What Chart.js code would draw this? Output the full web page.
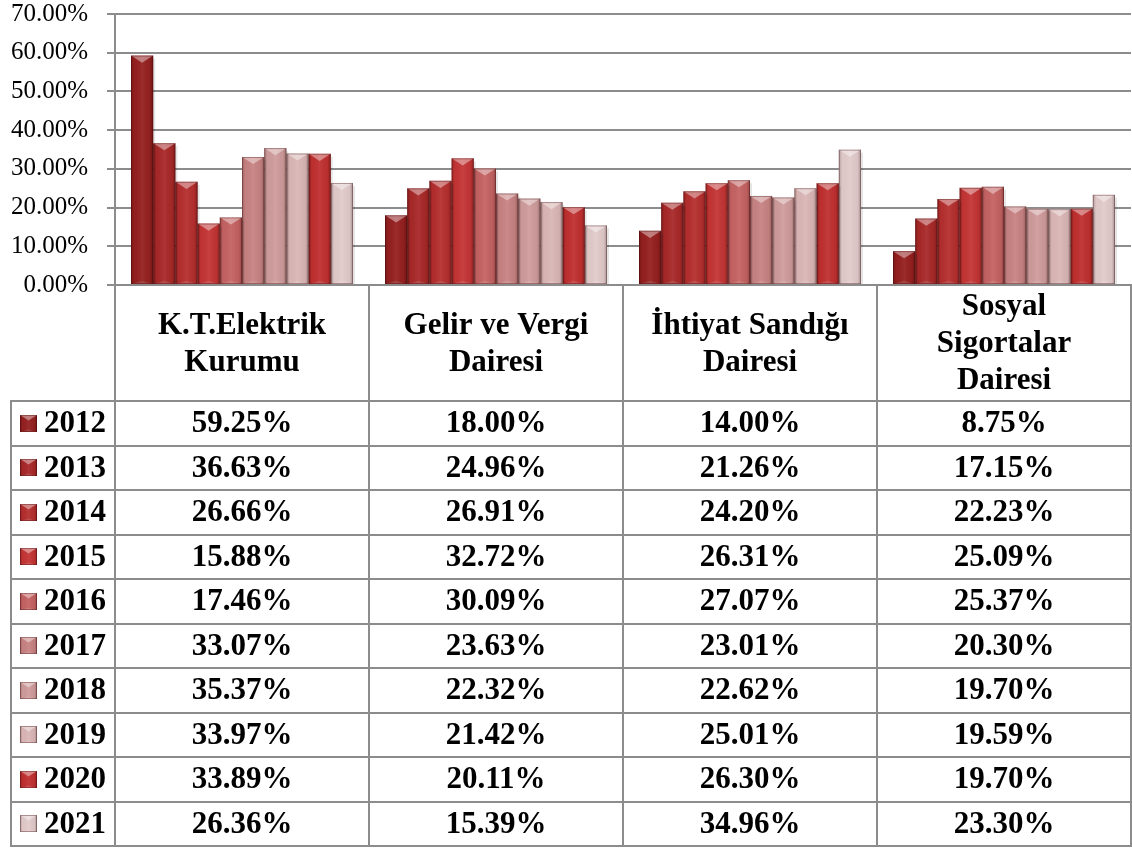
<!DOCTYPE html>
<html>
<head>
<meta charset="utf-8">
<script src="https://cdn.jsdelivr.net/npm/chart.js@4.4.1/dist/chart.umd.min.js"></script>
<style>
html,body{margin:0;padding:0;background:#fff;}
canvas{display:block;}
</style>
</head>
<body>
<canvas id="c" width="1132" height="848"></canvas>
<script>
// ---- data ----
const categories = [
  ['K.T.Elektrik', 'Kurumu'],
  ['Gelir ve Vergi', 'Dairesi'],
  ['İhtiyat Sandığı', 'Dairesi'],
  ['Sosyal', 'Sigortalar', 'Dairesi']
];
const years = ['2012','2013','2014','2015','2016','2017','2018','2019','2020','2021'];
const v2012 = [59.25, 18.00, 14.00, 8.75];
const v2013 = [36.63, 24.96, 21.26, 17.15];
const v2014 = [26.66, 26.91, 24.20, 22.23];
const v2015 = [15.88, 32.72, 26.31, 25.09];
const v2016 = [17.46, 30.09, 27.07, 25.37];
const v2017 = [33.07, 23.63, 23.01, 20.30];
const v2018 = [35.37, 22.32, 22.62, 19.70];
const v2019 = [33.97, 21.42, 25.01, 19.59];
const v2020 = [33.89, 20.11, 26.30, 19.70];
const v2021 = [26.36, 15.39, 34.96, 23.30];
const yTicks = [0, 10, 20, 30, 40, 50, 60, 70];

const seriesValues = [v2012, v2013, v2014, v2015, v2016, v2017, v2018, v2019, v2020, v2021];
const colors = ['#951f1f','#a82828','#b52e2e','#c43434','#c56262','#c88282','#cf9b9b','#dbb6b6','#c02f2f','#e2caca'];

const FONT = "'Liberation Serif', 'Times New Roman', serif";
const GRID = '#8c8c8c';
const ROW_TOP = 401, ROW_H = 44.5, TABLE_LEFT = 11, TABLE_BOTTOM = 846;

function fmt(v){ return v.toFixed(2) + '%'; }

function bevel(ctx, left, top, w, h) {
  if (h <= 0) return;
  const right = left + w;
  const bottom = top + h;
  const g = ctx.createLinearGradient(left, 0, right, 0);
  g.addColorStop(0, 'rgba(0,0,0,0.22)');
  g.addColorStop(0.15, 'rgba(0,0,0,0.02)');
  g.addColorStop(0.5, 'rgba(255,255,255,0.06)');
  g.addColorStop(0.85, 'rgba(0,0,0,0.04)');
  g.addColorStop(1, 'rgba(0,0,0,0.28)');
  ctx.fillStyle = g;
  ctx.fillRect(left, top, w, h);
  const d = Math.min(w * 0.32, h);
  ctx.beginPath();
  ctx.moveTo(left, top);
  ctx.lineTo(right, top);
  ctx.lineTo(left + w / 2, top + d);
  ctx.closePath();
  ctx.fillStyle = 'rgba(255,255,255,0.40)';
  ctx.fill();
  const db = Math.min(w * 0.15, h);
  ctx.beginPath();
  ctx.moveTo(left, bottom);
  ctx.lineTo(right, bottom);
  ctx.lineTo(left + w / 2, bottom - db);
  ctx.closePath();
  ctx.fillStyle = 'rgba(255,255,255,0.12)';
  ctx.fill();
  ctx.strokeStyle = 'rgba(60,0,0,0.35)';
  ctx.lineWidth = 1;
  ctx.strokeRect(left + 0.5, top + 0.5, w - 1, h - 1);
}

const bevelPlugin = {
  id: 'bevel',
  afterDatasetsDraw(chart) {
    const ctx = chart.ctx;
    ctx.save();
    chart.data.datasets.forEach((ds, di) => {
      const meta = chart.getDatasetMeta(di);
      meta.data.forEach(el => {
        const p = el.getProps(['x','y','base','width'], true);
        ctx.fillStyle = 'rgba(0,0,0,0.10)';
        ctx.fillRect(p.x + p.width / 2, p.y + 3, 2, p.base - p.y - 3);
        bevel(ctx, p.x - p.width / 2, p.y, p.width, p.base - p.y);
      });
    });
    ctx.restore();
  }
};

const tablePlugin = {
  id: 'table',
  afterDraw(chart) {
    const ctx = chart.ctx;
    const xs = chart.scales.x;
    const area = chart.chartArea;
    const n = categories.length;
    const colW = (area.right - area.left) / n;
    ctx.save();
    ctx.strokeStyle = GRID;
    ctx.lineWidth = 2;
    for (let i = 0; i <= n; i++) {
      const x = Math.round(area.left + i * colW);
      ctx.beginPath();
      ctx.moveTo(x, area.bottom);
      ctx.lineTo(x, TABLE_BOTTOM);
      ctx.stroke();
    }
    ctx.beginPath();
    ctx.moveTo(TABLE_LEFT, ROW_TOP);
    ctx.lineTo(TABLE_LEFT, TABLE_BOTTOM);
    ctx.stroke();
    for (let r = 0; r <= years.length; r++) {
      const y = Math.round(ROW_TOP + r * ROW_H);
      ctx.beginPath();
      ctx.moveTo(TABLE_LEFT - 1, y);
      ctx.lineTo(area.right + 1, y);
      ctx.stroke();
    }
    ctx.fillStyle = '#000';
    ctx.textAlign = 'center';
    ctx.textBaseline = 'middle';
    ctx.font = 'bold 31px ' + FONT;
    const headMid = (area.bottom + ROW_TOP) / 2;
    const lh = 37;
    categories.forEach((lines, i) => {
      const cx = xs.getPixelForValue(i);
      const y0 = headMid - (lines.length - 1) * lh / 2;
      lines.forEach((t, k) => ctx.fillText(t, cx, y0 + k * lh + 1));
    });
    ctx.font = 'bold 31px ' + FONT;
    years.forEach((yr, r) => {
      const cy = ROW_TOP + r * ROW_H + ROW_H / 2;
      const mx = 20, ms = 17, my = Math.round(cy - ms / 2);
      ctx.fillStyle = colors[r];
      ctx.fillRect(mx, my, ms, ms);
      bevel(ctx, mx, my, ms, ms);
      ctx.fillStyle = '#000';
      ctx.textAlign = 'left';
      ctx.fillText(yr, 44, cy + 1);
      ctx.textAlign = 'center';
      seriesValues[r].forEach((v, i) => {
        ctx.fillText(fmt(v), xs.getPixelForValue(i), cy + 1);
      });
    });
    ctx.restore();
  }
};

new Chart(document.getElementById('c'), {
  type: 'bar',
  data: {
    labels: categories.map(c => c.join(' ')),
    datasets: years.map((y, i) => ({
      label: y,
      data: seriesValues[i],
      backgroundColor: colors[i],
      borderWidth: 0,
      categoryPercentage: 0.874,
      barPercentage: 1.0
    }))
  },
  options: {
    responsive: false,
    animation: false,
    devicePixelRatio: 1,
    layout: { padding: { left: 0, right: 1, top: 14, bottom: 563 } },
    plugins: { legend: { display: false }, tooltip: { enabled: false } },
    scales: {
      x: {
        grid: { display: false, drawTicks: false, tickLength: 0 },
        border: { display: true, color: GRID, width: 2 },
        ticks: { display: false, padding: 0 },
        afterFit(scale) { scale.height = 0; scale.paddingLeft = 0; scale.paddingRight = 0; }
      },
      y: {
        min: 0, max: 70,
        afterBuildTicks(scale) { scale.ticks = yTicks.map(v => ({ value: v })); },
        afterFit(scale) { scale.width = 115; scale.paddingTop = 0; scale.paddingBottom = 0; },
        grid: { color: GRID, lineWidth: 2, tickLength: 8 },
        border: { display: true, color: GRID, width: 2 },
        ticks: {
          padding: 19,
          color: '#000',
          font: { family: FONT, size: 25 },
          callback: v => fmt(v)
        }
      }
    }
  },
  plugins: [bevelPlugin, tablePlugin]
});
</script>
</body>
</html>
